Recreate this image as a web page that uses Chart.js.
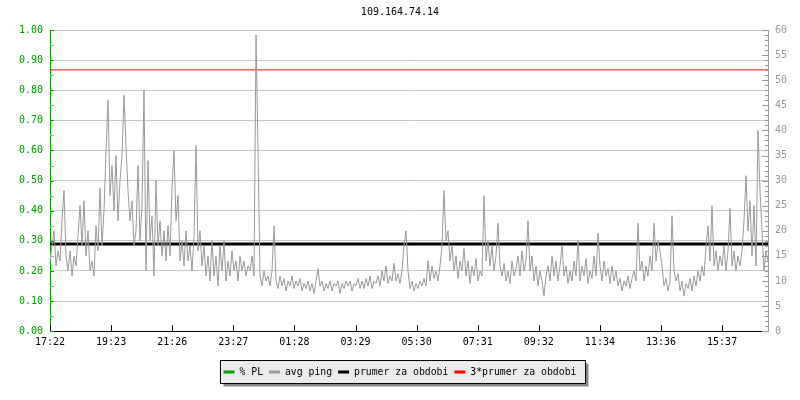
<!DOCTYPE html>
<html>
<head>
<meta charset="utf-8">
<script src="https://cdn.jsdelivr.net/npm/chart.js@4/dist/chart.umd.min.js"></script>
<style>
  html, body { margin: 0; padding: 0; background: #fff; }
  #wrap { width: 800px; height: 400px; }
</style>
</head>
<body>
<div id="wrap"><canvas id="pingChart" width="800" height="400"></canvas></div>
<script>
// time labels along the bottom axis
const tickLabels = ["17:22", "19:23", "21:26", "23:27", "01:28", "03:29",
  "05:30", "07:31", "09:32", "11:34", "13:36", "15:37"];

// avg ping in ms, one sample every ~4 minutes
const pingValues = [
  // 17:22 - 21:40
  14, 17, 20, 13, 16, 14, 22, 28, 15, 12, 16, 11, 15, 13, 19, 25, 17, 26, 15, 20,
  12, 14, 11, 21, 16, 28.5, 17, 24, 36, 46, 27, 33, 24, 35, 22, 30, 35, 47, 37, 28,
  22, 26, 17, 20, 33, 18, 25, 48, 12, 34, 18, 23, 11, 30, 17, 22, 15, 20, 14, 21,
  15, 28.5, 36, 22, 27, 14, 18, 13, 20, 14, 17, 12, 19, 37, 16, 20, 13, 17, 11, 15,
  10,
  // night
  18, 11, 15, 9, 17, 12, 18, 10, 14, 11, 16, 12, 14, 10, 15, 12, 14, 11, 13,
  12, 15, 11, 59, 36, 11, 9, 12, 10, 11, 9, 12, 21, 10, 8.5, 11, 9, 10.5, 8, 10,
  9, 11, 8.5, 10, 9, 10.5, 8, 9.5, 8.5, 10, 8, 9.5, 7.5, 10, 12.5, 9, 10, 8, 9.5,
  8.5, 10, 8, 9.5, 9, 10, 7.5, 9.5, 8.5, 10, 9, 10, 8, 9.5, 9, 10.5, 8.5,
  // early morning
  10, 8.5, 10.5, 9, 11, 8.5, 10, 9.5, 11, 9, 12, 10, 13, 9.5, 11, 10, 13.5, 10,
  11.5, 9.5, 12, 17, 20, 12, 8.5, 10, 8, 9.5, 8.5, 10, 9, 10.5, 9, 14, 10, 13,
  10.5, 12, 10, 13, 17, 28, 18, 20, 14, 17, 12, 15, 10.5, 14, 12, 16.5, 11, 14,
  9.5, 13, 11, 14.5, 10, 12, 11, 27, 14, 18, 13, 17, 12, 15, 21.5, 13,
  // day
  11, 13.5, 10, 12, 9.5, 14, 11, 12.5, 15, 11, 16, 12, 14, 22, 12, 15, 10, 13, 9,
  12, 10, 7, 11, 13, 10, 15, 11, 14, 10, 13, 17, 11, 13, 9.5, 12, 10, 14, 11, 18,
  10, 13, 11, 14.5, 9.5, 12, 10.5, 15, 11, 19.5, 13, 10, 14, 11, 12.5, 9.5, 13, 10,
  12, 9, 10.5, 8, 10, 9, 11, 8.5, 10.5, 12, 10, 21.5, 12, 14, 10, 13, 11, 15, 12,
  21.5, 14, 18, 16,
  // afternoon
  13, 9, 10.5, 8, 10, 23, 12, 10, 11.5, 8, 10, 7, 9.5, 8.5, 10.5, 8, 11, 9, 12, 10,
  13, 11, 17, 21, 14, 25, 13, 16, 12, 15, 13, 17, 12, 16, 24.5, 13, 16, 12, 15, 13,
  16, 22, 31, 20, 26, 15, 25, 13, 40, 28, 20, 12, 16, 14
];

// packet loss (%) - none visible in this period
const plValues = [];

const avgPing = 17.35;   // prumer za obdobi
const avgPing3 = 52.05;  // 3*prumer za obdobi

const samplesPerLabel = 30.55;
const lastX = pingValues.length - 1;

const mono = "'DejaVu Sans Mono', monospace";
Chart.defaults.font.family = mono;
Chart.defaults.font.size = 10;
Chart.defaults.color = "#000";

const pingPoints = pingValues.map((v, i) => ({ x: i, y: v }));
const plPoints = plValues.map((v, i) => ({ x: i, y: v }));

// legend frame with shadow + inner tick marks like rrdtool
const rrdLook = {
  id: "rrdLook",
  beforeDraw(chart) {
    const boxes = chart.legend && chart.legend.legendHitBoxes;
    if (!boxes || !boxes.length) return;
    const ctx = chart.ctx;
    let l = Infinity, r = -Infinity;
    boxes.forEach(b => { l = Math.min(l, b.left); r = Math.max(r, b.left + b.width); });
    const x = Math.round(l - 4) + 0.5, y = 360.5, w = Math.round(r - l + 12), h = 23;
    ctx.save();
    ctx.fillStyle = "#888";
    ctx.fillRect(x + 3, y + 3, w, h);
    ctx.fillStyle = "#ebebeb";
    ctx.fillRect(x, y, w, h);
    ctx.strokeStyle = "#000";
    ctx.lineWidth = 1;
    ctx.strokeRect(x, y, w, h);
    ctx.restore();
  },
  afterDraw(chart) {
    const ctx = chart.ctx;
    const a = chart.chartArea;
    const xs = chart.scales.x, yl = chart.scales.y, yr = chart.scales.y2;
    ctx.save();
    ctx.lineWidth = 1;
    // x ticks pointing up into the plot
    ctx.strokeStyle = "#000";
    xs.ticks.forEach(t => {
      const px = Math.round(xs.getPixelForValue(t.value)) + 0.5;
      ctx.beginPath(); ctx.moveTo(px, a.bottom); ctx.lineTo(px, a.bottom - 6); ctx.stroke();
    });
    // left axis ticks
    for (let k = 0; k <= 20; k++) {
      const py = Math.round(yl.getPixelForValue(k * 0.05)) + 0.5;
      ctx.strokeStyle = k % 2 === 0 ? "#00a000" : "#aaa";
      ctx.beginPath(); ctx.moveTo(a.left, py); ctx.lineTo(a.left + 4, py); ctx.stroke();
    }
    // right axis ticks
    ctx.strokeStyle = "#999";
    for (let k = 0; k <= 60; k++) {
      const py = Math.round(yr.getPixelForValue(k)) + 0.5;
      const len = k % 5 === 0 ? 6 : 3;
      ctx.beginPath(); ctx.moveTo(a.right, py); ctx.lineTo(a.right - len, py); ctx.stroke();
    }
    ctx.restore();
  }
};

const ctx = document.getElementById("pingChart").getContext("2d");
const pingChart = new Chart(ctx, {
  type: "line",
  data: {
    datasets: [
      {
        label: "% PL",
        data: plPoints,
        yAxisID: "y",
        borderColor: "#00a000",
        backgroundColor: "#00a000",
        borderWidth: 1,
        pointRadius: 0,
      },
      {
        label: "avg ping",
        data: pingPoints,
        yAxisID: "y2",
        borderColor: "#999",
        backgroundColor: "#999",
        borderWidth: 1,
        pointRadius: 0,
      },
      {
        label: "prumer za obdobi",
        data: [{ x: 0, y: avgPing }, { x: lastX, y: avgPing }],
        yAxisID: "y2",
        borderColor: "#000",
        backgroundColor: "#000",
        borderWidth: 3,
        pointRadius: 0,
      },
      {
        label: "3*prumer za obdobi",
        data: [{ x: 0, y: avgPing3 }, { x: lastX, y: avgPing3 }],
        yAxisID: "y2",
        borderColor: "#ff0000",
        backgroundColor: "#ff0000",
        borderWidth: 1,
        pointRadius: 0,
      },
    ],
  },
  options: {
    responsive: false,
    animation: false,
    layout: { padding: { left: 0, right: 0, top: 0, bottom: 13 } },
    plugins: {
      title: {
        display: true,
        text: "109.164.74.14",
        color: "#000",
        font: { family: mono, size: 10, weight: "normal" },
        padding: { top: 6, bottom: 12 },
      },
      legend: {
        position: "bottom",
        labels: {
          usePointStyle: true,
          pointStyleWidth: 11,
          padding: 6,
          color: "#000",
          font: { family: mono, size: 9.8 },
          generateLabels(chart) {
            return chart.data.datasets.map((ds, i) => ({
              text: ds.label,
              datasetIndex: i,
              pointStyle: "line",
              strokeStyle: ds.borderColor,
              fillStyle: ds.borderColor,
              lineWidth: 3,
              fontColor: "#000",
              hidden: false,
            }));
          },
        },
      },
      tooltip: { enabled: false },
    },
    scales: {
      x: {
        type: "linear",
        min: 0,
        max: lastX,
        afterFit: s => { s.height = 30; },
        afterBuildTicks: s => {
          s.ticks = tickLabels.map((_, k) => ({ value: k * samplesPerLabel }));
        },
        ticks: {
          autoSkip: false,
          maxRotation: 0,
          padding: 5,
          color: "#000",
          font: { family: mono, size: 10 },
          callback: (v, idx) => tickLabels[idx],
        },
        grid: { drawOnChartArea: false, drawTicks: false },
        border: { color: "#000", width: 1 },
      },
      y: {
        position: "left",
        min: 0,
        max: 1,
        afterFit: s => { s.width = 50; },
        ticks: {
          stepSize: 0.1,
          padding: 7,
          color: "#00a000",
          font: { family: mono, size: 10 },
          callback: v => v.toFixed(2),
        },
        grid: { color: "#c8c8c8", drawTicks: false },
        border: { color: "#00a000", width: 1 },
      },
      y2: {
        position: "right",
        min: 0,
        max: 60,
        afterFit: s => { s.width = 32; },
        ticks: {
          stepSize: 5,
          padding: 7,
          color: "#999",
          font: { family: mono, size: 10 },
        },
        grid: { drawOnChartArea: false, drawTicks: false },
        border: { color: "#999", width: 1 },
      },
    },
  },
  plugins: [rrdLook],
});
</script>
</body>
</html>
